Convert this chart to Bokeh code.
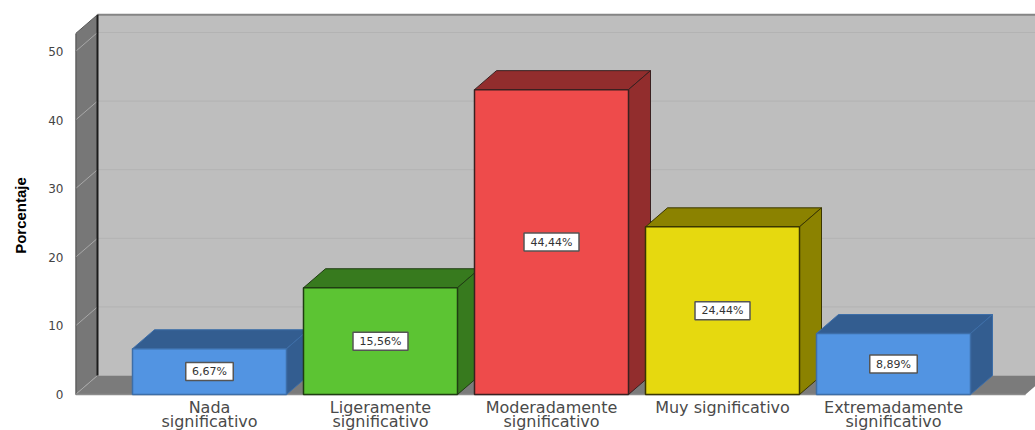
from bokeh.plotting import figure
from bokeh.models import FixedTicker, Range1d
from bokeh.core.properties import value
from bokeh.embed import file_html
from bokeh.resources import INLINE

# Survey responses, percentage per category
categories = ["Nada\nsignificativo", "Ligeramente\nsignificativo", "Moderadamente\nsignificativo",
              "Muy significativo", "Extremadamente\nsignificativo"]
percentages = [6.67, 15.56, 44.44, 24.44, 8.89]
value_labels = ["6,67%", "15,56%", "44,44%", "24,44%", "8,89%"]
y_ticks = [0, 10, 20, 30, 40, 50]

front_colors = ["#5294e2", "#5cc433", "#ee4b4b", "#e6d90f", "#5294e2"]
shade_colors = ["#335d90", "#377a1e", "#922d2d", "#8b8200", "#335d90"]
edge_colors = ["#3d6ea8", "#1f3d12", "#3a2020", "#3a3600", "#3d6ea8"]

# Chart-box scales: one category step and one percent expressed in pixels
STEP_PX = 171.0
UNIT_PX = 6.86
LEFT_PX, BASE_PX = 75.0, 394.0
FIRST_CENTER_PX = 209.0
W, H = 1035, 430

x_start = 1 + (LEFT_PX - FIRST_CENTER_PX) / STEP_PX
x_end = 1 + (W - FIRST_CENTER_PX) / STEP_PX
y_start = -(H - BASE_PX) / UNIT_PX
y_end = BASE_PX / UNIT_PX

# Oblique depth of the 3D box
DX = 22.0 / STEP_PX
DY = 19.0 / UNIT_PX
BAR_W = 154.0 / STEP_PX
WALL_TOP = 52.6
FLOOR_END = 1 + (1025 - FIRST_CENTER_PX) / STEP_PX

p = figure(width=W, height=H, output_backend="svg", toolbar_location=None,
           x_range=Range1d(x_start, x_end), y_range=Range1d(y_start, y_end),
           min_border_left=int(LEFT_PX), min_border_right=0,
           min_border_top=0, min_border_bottom=0)
p.outline_line_color = None
p.background_fill_color = "white"
p.border_fill_color = "white"
p.xgrid.visible = False
p.ygrid.visible = False

# Back wall with its gridlines
p.patch([x_start + DX, x_end + 1, x_end + 1, x_start + DX],
        [DY, DY, WALL_TOP + DY, WALL_TOP + DY], fill_color="#bebebe", line_color=None)
grid_vals = [v for v in y_ticks if v > 0]
p.segment([x_start + DX] * 5, [v + DY for v in grid_vals], [x_end] * 5, [v + DY for v in grid_vals],
          line_color="#b3b3b3", line_width=1)
p.line([x_start + DX, x_end], [WALL_TOP + DY] * 2, line_color="#858585", line_width=2)

# Floor
p.patch([x_start, FLOOR_END, FLOOR_END + DX, x_start + DX], [0, 0, DY, DY],
        fill_color="#7b7b7b", line_color=None)
p.line([x_start, FLOOR_END], [0, 0], line_color="#8c8c8c", line_width=1.5)

# Left side wall
p.patch([x_start, x_start + DX, x_start + DX, x_start], [0, DY, WALL_TOP + DY, WALL_TOP],
        fill_color="#777777", line_color=None)
p.segment([x_start] * 6, y_ticks, [x_start + DX] * 6, [v + DY for v in y_ticks],
          line_color="#a8a8a8", line_width=1)
p.line([x_start, x_start], [0, WALL_TOP], line_color="#333333", line_width=1.5)
p.line([x_start + DX, x_start + DX], [DY, WALL_TOP + DY], line_color="#1c1c1c", line_width=2)
p.line([x_start, x_start + DX], [WALL_TOP, WALL_TOP + DY], line_color="#555555", line_width=1)

# Bars: top face, side face, then front, painted left to right
for i, pct in enumerate(percentages):
    c = i + 1
    l, r = c - BAR_W / 2, c + BAR_W / 2
    p.patch([l, r, r + DX, l + DX], [pct, pct, pct + DY, pct + DY],
            fill_color=shade_colors[i], line_color=edge_colors[i], line_width=1)
    p.patch([r, r + DX, r + DX, r], [0, DY, pct + DY, pct],
            fill_color=shade_colors[i], line_color=edge_colors[i], line_width=1)
    p.quad(left=l, right=r, bottom=0, top=pct, fill_color=front_colors[i],
           line_color=edge_colors[i], line_width=1.5)

# Value boxes centred on each bar, sized to their text
xs = [i + 1 for i in range(len(percentages))]
mids = [v / 2 for v in percentages]
box_widths = [7.5 * len(t) + 10 for t in value_labels]
p.rect(xs, mids, width=box_widths, height=18, width_units="screen", height_units="screen",
       fill_color="white", line_color="#555555", line_width=1.5)
p.text(xs, mids, text=value_labels, text_align="center", text_baseline="middle",
       text_font=value("DejaVu Sans"), text_font_size="11px", text_color="#333333")

# Category names under the box, set tight so two lines fit above the page edge
p.text(xs, [-3.0 / UNIT_PX] * len(xs), text=categories, text_align="center", text_baseline="top",
       text_font=value("DejaVu Sans"), text_font_size="16px", text_color="#4a4a4a",
       text_line_height=0.75)
p.xaxis.visible = False

ya = p.yaxis[0]
ya.ticker = FixedTicker(ticks=y_ticks)
ya.axis_line_color = None
ya.major_tick_line_color = None
ya.minor_tick_line_color = None
ya.major_label_standoff = 6
ya.major_label_text_font = "DejaVu Sans"
ya.major_label_text_font_size = "12px"
ya.major_label_text_color = "#444444"
ya.axis_label = "Porcentaje"
ya.axis_label_text_font = "Liberation Sans"
ya.axis_label_text_font_style = "bold"
ya.axis_label_text_font_size = "15px"
ya.axis_label_text_color = "#000000"
ya.axis_label_standoff = 16

open("out.html", "w").write(file_html(p, INLINE))
